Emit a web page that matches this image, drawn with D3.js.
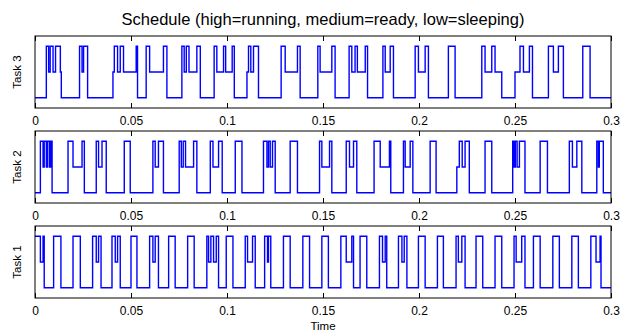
<!DOCTYPE html>
<html>
<head>
<meta charset="utf-8">
<script src="https://cdn.jsdelivr.net/npm/d3@7"></script>
<style>
  body { margin: 0; background: #fff; }
  text { font-family: "Liberation Sans", Arial, sans-serif; }
</style>
</head>
<body>
<svg id="chart"></svg>
<script>
// states: 0 = sleeping, 1 = ready, 2 = running
let task3Times = [0, 0.0059, 0.0071, 0.0079, 0.0094, 0.0107, 0.0132, 0.0137,
  0.0232, 0.0245, 0.0253, 0.0274, 0.0406, 0.0413, 0.0430, 0.0444, 0.0461, 0.0527, 0.0534,
  0.0579, 0.0597, 0.0669, 0.0687, 0.0765, 0.0777, 0.0788, 0.0802, 0.0843, 0.0861,
  0.0933, 0.0947, 0.0982, 0.0993, 0.1027, 0.1038, 0.1104, 0.1112, 0.1124, 0.1138, 0.1164,
  0.1282, 0.1303, 0.1367, 0.1381, 0.1473, 0.1485, 0.1546, 0.1563, 0.1636, 0.1650, 0.1667,
  0.1679, 0.1720, 0.1732, 0.1812, 0.1824, 0.1850, 0.1867, 0.1980, 0.1997, 0.2032, 0.2049,
  0.2153, 0.2188, 0.2327, 0.2344, 0.2379, 0.2396, 0.2431, 0.2500, 0.2526, 0.2544, 0.2575,
  0.2591, 0.2674, 0.2700, 0.2726, 0.2752, 0.2853, 0.2891];
let task3States = [0, 2, 1, 2, 1, 2, 1, 0,
  2, 1, 2, 0, 1, 2, 1, 2, 1, 2, 0,
  2, 1, 2, 0, 2, 1, 2, 1, 2, 0,
  2, 1, 2, 1, 2, 0, 1, 2, 1, 2, 0,
  2, 1, 2, 0, 2, 1, 2, 0, 2, 1, 2,
  1, 2, 0, 2, 1, 2, 0, 2, 1, 2, 0,
  2, 0, 2, 1, 2, 1, 0, 1, 2, 1, 2,
  0, 2, 1, 2, 0, 2, 0];

let task2Times = [0, 0.0028, 0.0042, 0.0048, 0.0059, 0.0066, 0.0076, 0.0083, 0.0089,
  0.0172, 0.0198, 0.0245, 0.0257, 0.0319, 0.0331, 0.0349, 0.0371, 0.0465, 0.0496,
  0.0614, 0.0626, 0.0643, 0.0669, 0.0751, 0.0762, 0.0772, 0.0784, 0.0826, 0.0843,
  0.0913, 0.0927, 0.0956, 0.0975, 0.1043, 0.1078, 0.1190, 0.1208, 0.1216, 0.1225, 0.1237,
  0.1251, 0.1329, 0.1367, 0.1482, 0.1494, 0.1534, 0.1546, 0.1621, 0.1638, 0.1659, 0.1676,
  0.1766, 0.1798, 0.1846, 0.1853, 0.1919, 0.1928, 0.1954, 0.1968, 0.2058, 0.2089,
  0.2197, 0.2210, 0.2225, 0.2240, 0.2262, 0.2344, 0.2379, 0.2488, 0.2495, 0.2502, 0.2511,
  0.2523, 0.2552, 0.2631, 0.2669, 0.2783, 0.2799, 0.2822, 0.2848, 0.2926, 0.2934, 0.2939, 0.2960];
let task2States = [0, 2, 1, 2, 1, 2, 1, 2, 0,
  2, 1, 2, 0, 2, 1, 2, 0, 2, 0,
  2, 1, 2, 0, 2, 1, 2, 1, 2, 0,
  2, 1, 2, 0, 2, 0, 2, 1, 2, 1, 2,
  0, 2, 0, 2, 1, 2, 0, 2, 1, 2, 0,
  2, 1, 2, 0, 2, 1, 2, 0, 2, 0,
  1, 2, 1, 2, 0, 2, 0, 2, 1, 2, 1,
  2, 0, 2, 0, 2, 1, 2, 0, 2, 1, 2, 0];

let task1Times = [0, 0.0028, 0.0042, 0.0048, 0.0097, 0.0135, 0.0198, 0.0236, 0.0300, 0.0319,
  0.0331, 0.0344, 0.0401, 0.0418, 0.0430, 0.0444, 0.0500, 0.0531, 0.0597, 0.0614, 0.0626,
  0.0643, 0.0696, 0.0730, 0.0795, 0.0829, 0.0895, 0.0904, 0.0916, 0.0930, 0.0944, 0.0956,
  0.0996, 0.1031, 0.1095, 0.1107, 0.1133, 0.1147, 0.1196, 0.1211, 0.1216, 0.1228,
  0.1294, 0.1329, 0.1395, 0.1430, 0.1494, 0.1528, 0.1593, 0.1621, 0.1650, 0.1659,
  0.1693, 0.1728, 0.1794, 0.1810, 0.1824, 0.1832, 0.1893, 0.1911, 0.1923, 0.1937,
  0.1997, 0.2032, 0.2096, 0.2127, 0.2193, 0.2205, 0.2223, 0.2240, 0.2297, 0.2332,
  0.2396, 0.2431, 0.2495, 0.2506, 0.2535, 0.2552, 0.2596, 0.2631, 0.2697, 0.2731,
  0.2796, 0.2830, 0.2895, 0.2922, 0.2943, 0.2948];
let task1States = [2, 1, 2, 0, 2, 0, 2, 0, 2, 1,
  2, 0, 2, 1, 2, 0, 2, 0, 2, 1, 2,
  0, 2, 0, 2, 0, 2, 1, 2, 1, 2, 0,
  2, 0, 2, 1, 2, 0, 2, 1, 2, 0,
  2, 0, 2, 0, 2, 0, 2, 1, 2, 0,
  2, 0, 2, 1, 2, 0, 2, 1, 2, 0,
  2, 0, 2, 0, 2, 1, 2, 0, 2, 0,
  2, 0, 2, 1, 2, 0, 2, 0, 2, 0,
  2, 0, 2, 1, 2, 0];

let taskNames = ["Task 3", "Task 2", "Task 1"];
let xTicks = [0, 0.05, 0.1, 0.15, 0.2, 0.25, 0.3];
let tEnd = 0.3;

let tasks = [
  {name: taskNames[0], times: task3Times, states: task3States},
  {name: taskNames[1], times: task2Times, states: task2States},
  {name: taskNames[2], times: task1Times, states: task1States}
];

let svgWidth = 632, svgHeight = 336;
let margin = {left: 35, right: 21};
let panelTops = [36, 131, 226], panelHeight = 72;
let width = svgWidth - margin.left - margin.right;

let x = d3.scaleLinear().domain([0, tEnd]).range([0, width]);
let y = d3.scaleLinear().domain([-0.4, 2.4]).range([panelHeight, 0]);

let svg = d3.select("#chart")
    .attr("width", svgWidth)
    .attr("height", svgHeight);

svg.append("text")
    .attr("x", margin.left + width / 2)
    .attr("y", 25)
    .attr("text-anchor", "middle")
    .attr("font-size", "16.5px")
    .text("Schedule (high=running, medium=ready, low=sleeping)");

let line = d3.line()
    .x(function(d) { return x(d[0]); })
    .y(function(d) { return y(d[1]); })
    .curve(d3.curveStepAfter);

tasks.forEach(function(task, i) {
  let g = svg.append("g")
      .attr("transform", "translate(" + margin.left + "," + panelTops[i] + ")");

  let pts = task.times.map(function(t, k) { return [t, task.states[k]]; });
  pts.push([tEnd, task.states[task.states.length - 1]]);

  g.append("path")
      .datum(pts)
      .attr("d", line)
      .attr("fill", "none")
      .attr("stroke", "#0000ff")
      .attr("stroke-width", 1.4);

  // bottom axis with labels, ticks pointing inward
  let bottom = g.append("g")
      .attr("transform", "translate(0," + panelHeight + ")")
      .call(d3.axisBottom(x).tickValues(xTicks).tickSize(-5).tickPadding(8)
            .tickFormat(function(d) { return d3.format("~g")(d); }));
  bottom.select(".domain").remove();
  bottom.selectAll("text").attr("font-size", "12px").attr("fill", "#000")
      .style("font-family", "Liberation Sans, Arial, sans-serif");
  bottom.selectAll("line").attr("stroke", "#000");

  let top = g.append("g")
      .call(d3.axisTop(x).tickValues(xTicks).tickSize(-5).tickFormat(""));
  top.select(".domain").remove();
  top.selectAll("line").attr("stroke", "#000");

  g.append("rect")
      .attr("x", 0).attr("y", 0)
      .attr("width", width).attr("height", panelHeight)
      .attr("fill", "none")
      .attr("stroke", "#000")
      .attr("stroke-width", 1);

  g.append("text")
      .attr("transform", "translate(-14," + (panelHeight / 2) + ") rotate(-90)")
      .attr("text-anchor", "middle")
      .attr("font-size", "11.5px")
      .text(task.name);
});

svg.append("text")
    .attr("x", margin.left + width / 2)
    .attr("y", 330)
    .attr("text-anchor", "middle")
    .attr("font-size", "11.5px")
    .text("Time");
</script>
</body>
</html>
